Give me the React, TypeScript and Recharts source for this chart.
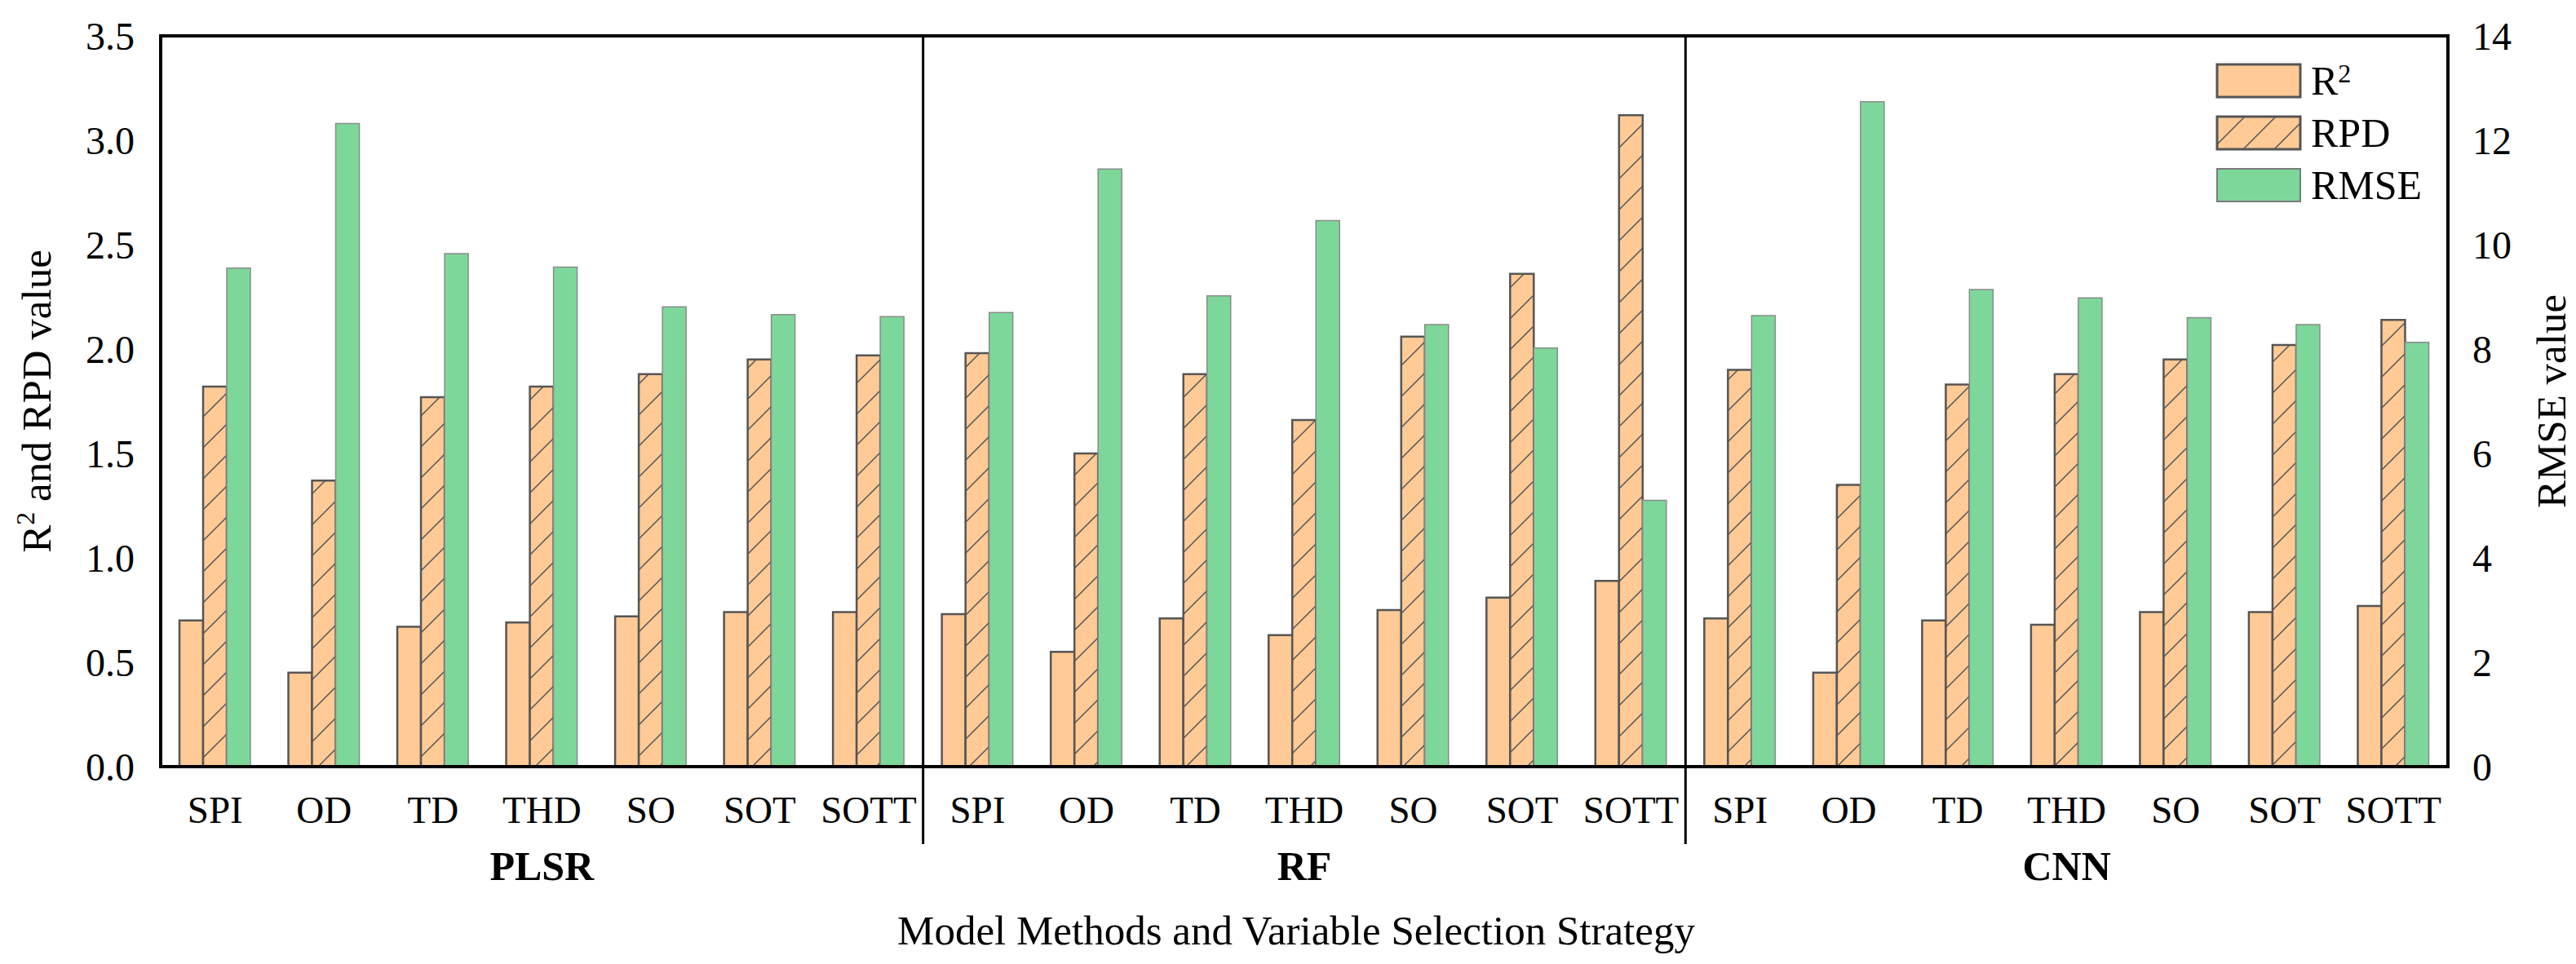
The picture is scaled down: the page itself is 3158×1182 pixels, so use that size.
import React from 'react';
import {
  Bar,
  BarChart,
  Legend,
  ReferenceArea,
  XAxis,
  YAxis,
} from 'recharts';

// Model / variable-selection results.
const strategies = ['SPI', 'OD', 'TD', 'THD', 'SO', 'SOT', 'SOTT'];
const models = ['PLSR', 'RF', 'CNN'];
const seriesOrder = ['r2', 'rpd', 'rmse'];

// one value per strategy, PLSR first, then RF, then CNN
const r2Values = [
  0.70, 0.45, 0.67, 0.69, 0.72, 0.74, 0.74,
  0.73, 0.55, 0.71, 0.63, 0.75, 0.81, 0.89,
  0.71, 0.45, 0.70, 0.68, 0.74, 0.74, 0.77,
];
const rpdValues = [
  1.82, 1.37, 1.77, 1.82, 1.88, 1.95, 1.97,
  1.98, 1.50, 1.88, 1.66, 2.06, 2.36, 3.12,
  1.90, 1.35, 1.83, 1.88, 1.95, 2.02, 2.14,
];
const rmseValues = [
  9.55, 12.32, 9.83, 9.57, 8.81, 8.66, 8.62,
  8.70, 11.45, 9.02, 10.46, 8.47, 8.02, 5.10,
  8.64, 12.74, 9.14, 8.98, 8.60, 8.47, 8.13,
];

const leftTicks = [0, 0.5, 1, 1.5, 2, 2.5, 3, 3.5];
const rightTicks = [0, 2, 4, 6, 8, 10, 12, 14];

const data = models.flatMap((model, m) =>
  strategies.map((strategy, s) => {
    const i = m * strategies.length + s;
    return { model, strategy, r2: r2Values[i], rpd: rpdValues[i], rmse: rmseValues[i] };
  }),
);

const FONT = "'Liberation Serif', 'Times New Roman', Times, serif";
const ORANGE = '#FFCA96';
const GREEN = '#7ED79A';
const EDGE = '#555555';

const W = 3158;
const H = 1182;
const PLOT_TOP = 44;
const LEFT_W = 197;
const RIGHT_W = 157;
const PLOT_W = W - LEFT_W - RIGHT_W;
const SEP_BOTTOM = 1035;

function Hatch({ id }: { id: string }) {
  return (
    <pattern id={id} patternUnits="userSpaceOnUse" width={38} height={38}>
      <rect width={38} height={38} fill={ORANGE} />
      <path
        d="M0,38 L38,0 M-9.5,9.5 L9.5,-9.5 M28.5,47.5 L47.5,28.5"
        stroke={EDGE}
        strokeWidth={1.5}
      />
    </pattern>
  );
}

function GroupTick(props: any) {
  const { x, y, payload, index } = props;
  const half = payload?.offset || PLOT_W / (2 * data.length);
  const n = strategies.length;
  return (
    <g>
      {index % n === 0 && index > 0 && (
        <line
          x1={x - half}
          x2={x - half}
          y1={PLOT_TOP}
          y2={SEP_BOTTOM}
          stroke="#000"
          strokeWidth={3}
        />
      )}
      {index % n === Math.floor(n / 2) && (
        <text
          x={x}
          y={y + 59}
          textAnchor="middle"
          fontFamily={FONT}
          fontSize={50}
          fontWeight="bold"
          fill="#000"
        >
          {payload.value}
        </text>
      )}
    </g>
  );
}

function LeftTitle(props: any) {
  const vb = props.viewBox;
  const bx = vb.x + 62;
  const cy = vb.y + vb.height / 2;
  return (
    <text
      x={bx}
      y={cy}
      transform={`rotate(-90, ${bx}, ${cy})`}
      textAnchor="middle"
      fontFamily={FONT}
      fontSize={51}
      fill="#000"
    >
      R
      <tspan dy={-20} fontSize={32}>2</tspan>
      <tspan dy={20}> and RPD value</tspan>
    </text>
  );
}

function RightTitle(props: any) {
  const vb = props.viewBox;
  const bx = vb.x + 144;
  const cy = vb.y + vb.height / 2;
  return (
    <text
      x={bx}
      y={cy}
      transform={`rotate(-90, ${bx}, ${cy})`}
      textAnchor="middle"
      fontFamily={FONT}
      fontSize={51}
      fill="#000"
    >
      RMSE value
    </text>
  );
}

function XTitle(props: any) {
  const vb = props.viewBox;
  return (
    <text
      x={vb.x + vb.width / 2 - 10}
      y={vb.y + 138}
      textAnchor="middle"
      fontFamily={FONT}
      fontSize={51}
      fill="#000"
    >
      Model Methods and Variable Selection Strategy
    </text>
  );
}

function LegendBox({ payload }: any) {
  const items = [...(payload || [])].sort(
    (a: any, b: any) => seriesOrder.indexOf(a.dataKey) - seriesOrder.indexOf(b.dataKey),
  );
  return (
    <div style={{ fontFamily: FONT, fontSize: 50, color: '#000', lineHeight: 1 }}>
      {items.map((p: any) => {
        const key = p.dataKey;
        const fill = key === 'rpd' ? 'url(#rpdHatchLegend)' : key === 'r2' ? ORANGE : GREEN;
        const stroke = key === 'rmse' ? '#7a7a7a' : EDGE;
        const sw = key === 'rmse' ? 2 : 3;
        return (
          <div key={key} style={{ display: 'flex', alignItems: 'center', height: 64 }}>
            <svg width={106} height={44}>
              <defs>
                <Hatch id="rpdHatchLegend" />
              </defs>
              <rect x={2} y={2} width={102} height={40} fill={fill} stroke={stroke} strokeWidth={sw} />
            </svg>
            <span style={{ marginLeft: 11 }}>
              {key === 'r2' ? (
                <>
                  R<sup style={{ fontSize: 32, verticalAlign: 'top', lineHeight: 1 }}>2</sup>
                </>
              ) : (
                p.value
              )}
            </span>
          </div>
        );
      })}
    </div>
  );
}

export default function App() {
  const tickStyle = { fill: '#000', fontSize: 48, fontFamily: FONT };
  return (
    <div style={{ width: W, height: H, background: '#fff' }}>
      <style>{'body{margin:0}'}</style>
      <BarChart
        width={W}
        height={H}
        data={data}
        margin={{ top: PLOT_TOP, right: 0, bottom: 0, left: 0 }}
        barGap={0}
        barSize={29}
      >
        <defs>
          <Hatch id="rpdHatch" />
        </defs>
        <XAxis
          xAxisId="cat"
          dataKey="strategy"
          height={80}
          interval={0}
          tickLine={false}
          tickSize={0}
          tickMargin={36}
          axisLine={{ stroke: '#000', strokeWidth: 4 }}
          tick={{ fill: '#000', fontSize: 47, fontFamily: FONT }}
        />
        <XAxis
          xAxisId="grp"
          dataKey="model"
          height={162}
          interval={0}
          tickLine={false}
          tickSize={0}
          tickMargin={0}
          axisLine={false}
          tick={<GroupTick />}
          label={<XTitle />}
        />
        <YAxis
          yAxisId="left"
          width={LEFT_W}
          domain={[0, 3.5]}
          ticks={leftTicks}
          tickFormatter={(v: number) => v.toFixed(1)}
          tickLine={false}
          tickSize={0}
          tickMargin={32}
          axisLine={{ stroke: '#000', strokeWidth: 4 }}
          tick={tickStyle}
          label={<LeftTitle />}
        />
        <YAxis
          yAxisId="right"
          orientation="right"
          width={RIGHT_W}
          domain={[0, 14]}
          ticks={rightTicks}
          tickLine={false}
          tickSize={0}
          tickMargin={30}
          axisLine={{ stroke: '#000', strokeWidth: 4 }}
          tick={tickStyle}
          label={<RightTitle />}
        />
        <ReferenceArea
          xAxisId="cat"
          yAxisId="left"
          y1={0}
          y2={3.5}
          fill="none"
          stroke="#000"
          strokeWidth={4}
        />
        <Legend
          layout="vertical"
          align="center"
          verticalAlign="middle"
          wrapperStyle={{ top: 67, left: 2716, width: 340 }}
          content={<LegendBox />}
        />
        <Bar
          xAxisId="cat"
          yAxisId="left"
          dataKey="r2"
          name="R2"
          fill={ORANGE}
          stroke={EDGE}
          strokeWidth={2.5}
          isAnimationActive={false}
        />
        <Bar
          xAxisId="cat"
          yAxisId="left"
          dataKey="rpd"
          name="RPD"
          fill="url(#rpdHatch)"
          stroke={EDGE}
          strokeWidth={2.5}
          isAnimationActive={false}
        />
        <Bar
          xAxisId="cat"
          yAxisId="right"
          dataKey="rmse"
          name="RMSE"
          fill={GREEN}
          stroke="#8a8a8a"
          strokeWidth={1.5}
          isAnimationActive={false}
        />
      </BarChart>
    </div>
  );
}
